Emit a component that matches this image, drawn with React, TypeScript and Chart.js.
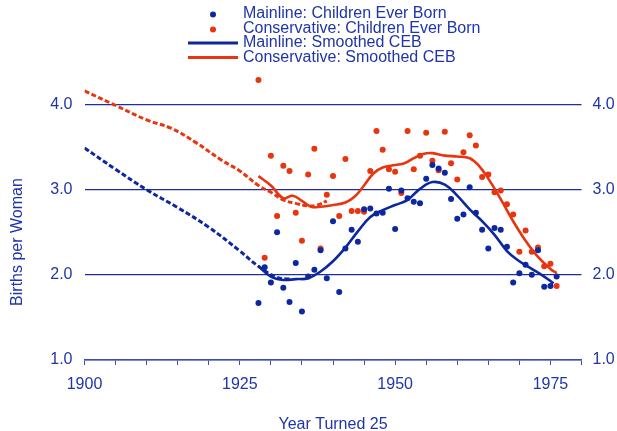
import React, { useEffect, useRef } from "react";
import { Chart, registerables } from "chart.js";

Chart.register(...registerables);

// ---------- data ----------
const ceBYears = [
  1928, 1929, 1930, 1931, 1932, 1933, 1934, 1935, 1936, 1937, 1938, 1939, 1940, 1941, 1942, 1943, 1944,
  1945, 1946, 1947, 1948, 1949, 1950, 1951, 1952, 1953, 1954, 1955, 1956, 1957, 1958, 1959, 1960, 1961,
  1962, 1963, 1964, 1965, 1966, 1967, 1968, 1969, 1970, 1971, 1972, 1973, 1974, 1975, 1976,
];
const mainlineCEB = [
  1.67, 2.09, 1.91, 2.5, 1.85, 1.68, 2.14, 1.57, 1.98, 2.06, 2.29, 1.96, 2.63, 1.8, 2.31, 2.53, 2.39,
  2.77, 2.78, 2.72, 2.73, 3.01, 2.54, 2.99, 2.9, 2.86, 2.84, 3.13, 3.29, 3.25, 3.2, 2.89, 2.66, 2.71,
  3.03, 2.73, 2.53, 2.31, 2.55, 2.53, 2.33, 1.91, 2.02, 2.12, 2.0, 2.29, 1.86, 1.87, 1.98,
];
const conservativeCEB = [
  4.29, 2.2, 3.4, 2.69, 3.28, 3.22, 2.73, 2.4, 3.18, 3.48, 2.31, 2.94, 3.16, 2.69, 3.36, 2.75, 2.75,
  2.74, 3.22, 3.69, 3.47, 3.24, 3.21, 2.96, 3.69, 3.24, 3.4, 3.67, 3.34, 3.23, 3.68, 3.31, 3.12, 3.44,
  3.64, 3.52, 3.15, 3.18, 2.97, 2.99, 2.83, 2.71, 2.27, 2.52, 2.27, 2.32, 2.1, 2.13, 1.87,
];

const mainSmoothYears = [
  1928, 1930, 1932, 1934, 1936, 1938, 1940, 1942, 1944, 1946, 1948, 1950, 1952, 1954, 1956, 1958, 1960,
  1962, 1964, 1966, 1968, 1970, 1972, 1974, 1975.5,
];
const mainSmooth = [
  2.1, 1.98, 1.94, 1.95, 1.96, 2.04, 2.16, 2.32, 2.51, 2.68, 2.76, 2.82, 2.88, 3.01, 3.09, 3.06, 2.93,
  2.77, 2.63, 2.47, 2.28, 2.16, 2.07, 1.98, 1.9,
];
const consSmoothYears = [
  1928, 1930, 1932, 1933.5, 1935, 1936.5, 1938, 1940, 1942, 1943.5, 1945, 1946.5, 1948, 1950, 1951.5,
  1953, 1954.5, 1956, 1958, 1960, 1962, 1963.5, 1965, 1967, 1969, 1971, 1973, 1975, 1976,
];
const consSmooth = [
  3.16, 3.05, 2.9, 2.93, 2.87, 2.8, 2.8, 2.82, 2.85, 2.92, 3.05, 3.19, 3.26, 3.29, 3.31, 3.37, 3.42,
  3.43, 3.4, 3.39, 3.37, 3.28, 3.13, 2.89, 2.63, 2.4, 2.21, 2.07, 2.02,
];

const mainEarlyYears = [1900, 1905, 1910, 1915, 1920, 1925, 1928, 1931, 1933];
const mainEarly = [3.49, 3.24, 3.0, 2.79, 2.56, 2.28, 2.1, 1.97, 1.95];
const consEarlyYears = [1900, 1905, 1910, 1914, 1918, 1922, 1925, 1928, 1930, 1932, 1934, 1936, 1937.5, 1939];
const consEarly = [4.16, 3.99, 3.82, 3.72, 3.55, 3.35, 3.22, 3.05, 2.97, 2.88, 2.84, 2.81, 2.82, 2.87];

const xLabelYears = [1900, 1925, 1950, 1975];
const yTickValues = [1, 2, 3, 4];
const legendLabels = [
  "Mainline: Children Ever Born",
  "Conservative: Children Ever Born",
  "Mainline: Smoothed CEB",
  "Conservative: Smoothed CEB",
];
const xTitle = "Year Turned 25";
const yTitle = "Births per Woman";

// ---------- styles ----------
const BLUE = "#0d27a0";
const RED = "#e8340f";
const TEXT = "#1f35a8";
const GRID = "#1d2f9e";
const AXIS = "#3d4db5";
const FONT = '"Liberation Sans", Arial, sans-serif';

const toPts = (xs: number[], ys: number[]) => xs.map((x, i) => ({ x, y: ys[i] }));

const overlayPlugin = {
  id: "overlay",
  afterDraw(chart: any) {
    const ctx = chart.ctx as CanvasRenderingContext2D;
    const area = chart.chartArea;
    ctx.save();
    ctx.font = `16px ${FONT}`;
    ctx.fillStyle = TEXT;
    ctx.textBaseline = "middle";
    // legend
    const rows = [13.5, 28.5, 43, 57.5];
    const kinds = [
      { c: BLUE, dot: true },
      { c: RED, dot: true },
      { c: BLUE, dot: false },
      { c: RED, dot: false },
    ];
    legendLabels.forEach((label, i) => {
      const y = rows[i];
      const k = kinds[i];
      if (k.dot) {
        ctx.fillStyle = k.c;
        ctx.beginPath();
        ctx.arc(213, y + 1, 3, 0, Math.PI * 2);
        ctx.fill();
      } else {
        ctx.strokeStyle = k.c;
        ctx.lineWidth = 3;
        ctx.beginPath();
        ctx.moveTo(188, y);
        ctx.lineTo(238, y);
        ctx.stroke();
      }
      ctx.fillStyle = TEXT;
      ctx.textAlign = "left";
      ctx.fillText(label, 243, y);
    });
    // axis titles
    ctx.textAlign = "center";
    ctx.fillText(xTitle, (area.left + area.right) / 2, 425);
    ctx.save();
    ctx.translate(18, 242);
    ctx.rotate(-Math.PI / 2);
    ctx.fillText(yTitle, 0, 0);
    ctx.restore();
    ctx.restore();
  },
};

export default function App() {
  const ref = useRef<HTMLCanvasElement | null>(null);

  useEffect(() => {
    document.body.style.margin = "0";
    if (!ref.current) return;
    const yTicks = (scale: any) => {
      scale.ticks = yTickValues.map((v) => ({ value: v }));
    };
    const chart = new Chart(ref.current, {
      type: "scatter",
      data: {
        datasets: [
          {
            label: legendLabels[0],
            data: toPts(ceBYears, mainlineCEB),
            backgroundColor: BLUE,
            pointRadius: 3,
            pointBorderWidth: 0,
            order: 0,
          },
          {
            label: legendLabels[1],
            data: toPts(ceBYears, conservativeCEB),
            backgroundColor: RED,
            pointRadius: 3,
            pointBorderWidth: 0,
            order: 1,
          },
          {
            label: legendLabels[2],
            data: toPts(mainSmoothYears, mainSmooth),
            showLine: true,
            borderColor: BLUE,
            borderWidth: 2.6,
            pointRadius: 0,
            tension: 0.4,
            order: 3,
          },
          {
            label: legendLabels[3],
            data: toPts(consSmoothYears, consSmooth),
            showLine: true,
            borderColor: RED,
            borderWidth: 2.6,
            pointRadius: 0,
            tension: 0.4,
            order: 2,
          },
          {
            label: "mainEarly",
            data: toPts(mainEarlyYears, mainEarly),
            showLine: true,
            borderColor: BLUE,
            borderWidth: 3,
            borderDash: [5, 2.5],
            pointRadius: 0,
            tension: 0.4,
            order: 4,
          },
          {
            label: "consEarly",
            data: toPts(consEarlyYears, consEarly),
            showLine: true,
            borderColor: RED,
            borderWidth: 3,
            borderDash: [5, 2.5],
            pointRadius: 0,
            tension: 0.4,
            order: 4,
          },
        ],
      },
      options: {
        responsive: false,
        animation: false,
        devicePixelRatio: 1,
        layout: { padding: { top: 62, left: 0, right: 0, bottom: 0 } },
        plugins: { legend: { display: false }, tooltip: { enabled: false }, title: { display: false } },
        scales: {
          x: {
            type: "linear",
            position: "bottom",
            min: 1900,
            max: 1980,
            afterFit: (s: any) => {
              s.height = 71;
            },
            ticks: {
              stepSize: 5,
              autoSkip: false,
              maxRotation: 0,
              padding: 10,
              color: TEXT,
              font: { family: FONT, size: 16 },
              callback: (v: any) => (xLabelYears.includes(Number(v)) ? String(v) : ""),
            },
            grid: { drawOnChartArea: false, drawTicks: true, tickLength: 5, color: AXIS, lineWidth: 1 },
            border: { display: true, color: AXIS, width: 1.5 },
          },
          y: {
            type: "linear",
            position: "left",
            min: 1,
            max: 4.5,
            afterBuildTicks: yTicks,
            afterFit: (s: any) => {
              s.width = 84.5;
            },
            ticks: {
              padding: 12,
              color: TEXT,
              font: { family: FONT, size: 16 },
              callback: (v: any) => Number(v).toFixed(1),
            },
            grid: { drawTicks: false, color: GRID, lineWidth: 1.2 },
            border: { display: false },
          },
          y2: {
            type: "linear",
            position: "right",
            min: 1,
            max: 4.5,
            afterBuildTicks: yTicks,
            afterFit: (s: any) => {
              s.width = 35.5;
            },
            ticks: {
              padding: 11,
              color: TEXT,
              font: { family: FONT, size: 16 },
              callback: (v: any) => Number(v).toFixed(1),
            },
            grid: { display: false, drawTicks: false },
            border: { display: false },
          },
        },
      },
      plugins: [overlayPlugin],
    } as any);
    return () => chart.destroy();
  }, []);

  return (
    <div style={{ width: 617, height: 431 }}>
      <canvas ref={ref} width={617} height={431} style={{ display: "block" }} />
    </div>
  );
}
